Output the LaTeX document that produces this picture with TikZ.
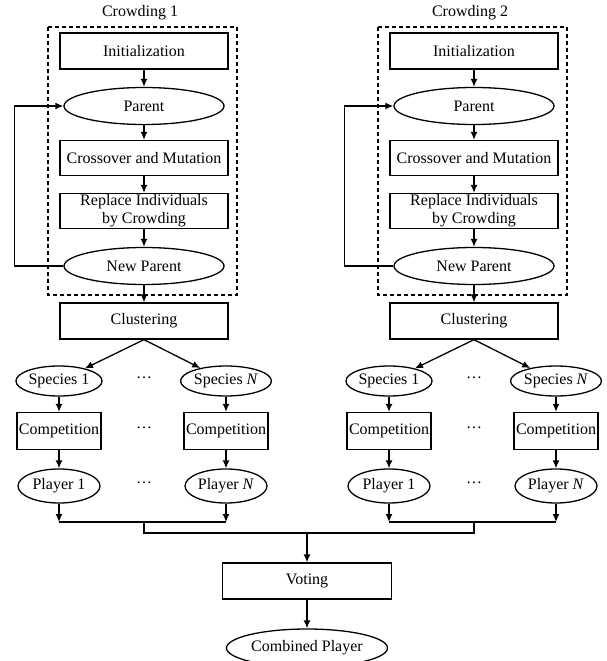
\documentclass[tikz,border=0pt]{standalone}
\usepackage{fontspec}
\setmainfont{Liberation Serif}
\usetikzlibrary{shapes.geometric,arrows.meta}

\tikzset{
  box/.style={draw, line width=1.3pt, minimum width=168pt, minimum height=36pt, inner sep=1pt, align=center},
  oval/.style={draw, ellipse, line width=1.3pt, minimum width=160pt, minimum height=37pt, inner sep=0pt},
  smallbox/.style={box, minimum width=84pt, minimum height=37pt, inner sep=0pt},
  smalloval/.style={oval, minimum width=82pt, minimum height=30pt},
  flow/.style={line width=1.3pt, -{Latex[length=8pt,width=7pt]}},
  plain/.style={line width=1.3pt},
  crowdbox/.style={draw, line width=1.4pt, dash pattern=on 4pt off 3pt}
}

\begin{document}
\begin{tikzpicture}[x=1pt, y=-1pt, font=\fontsize{16}{18}\selectfont]
    \useasboundingbox (0,0) rectangle (607,661);

    % Two crowding columns
    \foreach \cx/\k in {144/1, 474/2} {
        \draw[crowdbox] (\cx-96,27) rectangle (\cx+93,295);
        \node (title\k) at (\cx-4,13) {Crowding \k};

        \node[box] (init\k) at (\cx,51) {Initialization};
        \node[oval] (par\k) at (\cx,106) {Parent};
        \node[box, minimum height=35pt] (cross\k) at (\cx,158) {Crossover and Mutation};
        \node[box, minimum height=35pt, inner ysep=0pt] (repl\k) at (\cx,211) {Replace Individuals\\by Crowding};
        \node[oval] (np\k) at (\cx,266) {New Parent};
        \node[box] (clu\k) at (\cx,321) {Clustering};

        \node[smalloval] (spa\k) at (\cx-85,381) {Species 1};
        \node[smalloval] (spb\k) at (\cx+82,381) {Species \textit{N}};
        \node[smallbox] (coa\k) at (\cx-85,431) {Competition};
        \node[smallbox] (cob\k) at (\cx+82,431) {Competition};
        \node[smalloval, minimum height=34pt] (pla\k) at (\cx-85,486) {Player 1};
        \node[smalloval, minimum height=34pt] (plb\k) at (\cx+82,486) {Player \textit{N}};

        \node (dsp\k) at (\cx,378) {\dots};
        \node (dco\k) at (\cx,428) {\dots};
        \node (dpl\k) at (\cx,483) {\dots};

        \coordinate (j\k) at (\cx,522);

        % Flow inside the column
        \draw[flow] (init\k) -- (par\k);
        \draw[flow] (par\k) -- (cross\k);
        \draw[flow] (cross\k) -- (repl\k);
        \draw[flow] (repl\k) -- (np\k);
        \draw[flow] (np\k.west) -- ++(-49,0) |- (par\k.west);
        \draw[flow] (np\k) -- (clu\k);

        % Species branches
        \draw[flow] (clu\k.south) -- (spa\k);
        \draw[flow] (clu\k.south) -- (spb\k);
        \draw[flow] (spa\k) -- (coa\k);
        \draw[flow] (spb\k) -- (cob\k);
        \draw[flow] (coa\k) -- (pla\k);
        \draw[flow] (cob\k) -- (plb\k);
        \draw[flow] (pla\k) -- (pla\k |- j\k);
        \draw[flow] (plb\k) -- (plb\k |- j\k);
        \draw[plain] (pla\k |- j\k) -- (plb\k |- j\k);
    }

    % Voting
    \node[box, minimum width=169pt] (vote) at (307,581) {Voting};
    \node[oval, minimum width=161pt, minimum height=38pt] (comb) at (307,648) {Combined Player};
    \coordinate (m) at (307,533);

    \draw[plain] (j1) -- (j1 |- m) -- (j2 |- m) -- (j2);
    \draw[flow] (m) -- (vote);
    \draw[flow] (vote) -- (comb);
\end{tikzpicture}
\end{document}
